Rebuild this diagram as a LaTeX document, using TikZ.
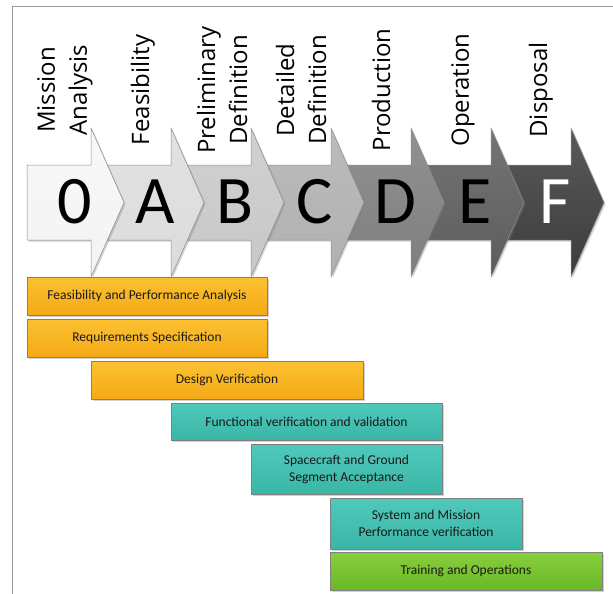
\documentclass[tikz,border=0pt]{standalone}
\usepackage{fontspec}
\setmainfont{Carlito}
\newfontfamily\namefont{Open Sans}
\usetikzlibrary{shadows}

\definecolor{grey0}{HTML}{F3F3F3}
\definecolor{greyA}{HTML}{DCDCDC}
\definecolor{greyB}{HTML}{C8C8C8}
\definecolor{greyC}{HTML}{B0B0B0}
\definecolor{greyD}{HTML}{7E7E7E}
\definecolor{greyE}{HTML}{5C5C5C}
\definecolor{greyF}{HTML}{3C3C3C}
\definecolor{ambertop}{HTML}{FBC132}
\definecolor{amberbot}{HTML}{F5AA16}
\definecolor{tealtop}{HTML}{4FC9BB}
\definecolor{tealbot}{HTML}{3AB6A6}
\definecolor{greentop}{HTML}{88CE3C}
\definecolor{greenbot}{HTML}{6AB828}

\begin{document}
\begin{tikzpicture}[x=1pt,y=-1pt,
  chev/.style={draw=black!45,line width=0.5pt,
    drop shadow={shadow xshift=1.5pt,shadow yshift=-1.5pt,opacity=0.35}},
  chevletter/.style={inner sep=0pt,font=\fontsize{68}{68}\selectfont},
  chevname/.style={rotate=90,align=center,inner sep=0pt,
    font=\namefont\fontsize{24}{32}\selectfont},
  taskbox/.style={draw=black!50,line width=0.5pt,inner sep=0pt,align=center,
    text=black!90,font=\fontsize{13.5}{17}\selectfont,
    drop shadow={shadow xshift=2pt,shadow yshift=-2pt,opacity=0.35}},
  amberbox/.style={taskbox,top color=ambertop,bottom color=amberbot},
  tealbox/.style={taskbox,top color=tealtop,bottom color=tealbot},
  greenbox/.style={taskbox,top color=greentop,bottom color=greenbot}]
\useasboundingbox (0,0) rectangle (613,594);
\draw[black!40,line width=0.8pt] (12,594) -- (12,6) -- (613,6);

% phase arrows, last one first
\path[chev,top color=greyF!85,bottom color=greyF] (491,165) -- (571,165) -- (571,128) -- (604,202.5) -- (571,277) -- (571,240) -- (491,240) -- cycle;
\path[chev,top color=greyE!85,bottom color=greyE] (411,165) -- (491,165) -- (491,128) -- (524,202.5) -- (491,277) -- (491,240) -- (411,240) -- cycle;
\path[chev,top color=greyD!85,bottom color=greyD] (331,165) -- (411,165) -- (411,128) -- (444,202.5) -- (411,277) -- (411,240) -- (331,240) -- cycle;
\path[chev,top color=greyC!85,bottom color=greyC] (251,165) -- (331,165) -- (331,128) -- (364,202.5) -- (331,277) -- (331,240) -- (251,240) -- cycle;
\path[chev,top color=greyB!85,bottom color=greyB] (171,165) -- (251,165) -- (251,128) -- (284,202.5) -- (251,277) -- (251,240) -- (171,240) -- cycle;
\path[chev,top color=greyA!85,bottom color=greyA] (91,165) -- (171,165) -- (171,128) -- (204,202.5) -- (171,277) -- (171,240) -- (91,240) -- cycle;
\path[chev,top color=grey0!60,bottom color=grey0] (27,165) -- (91,165) -- (91,128) -- (124,202.5) -- (91,277) -- (91,240) -- (27,240) -- cycle;

\node[chevletter] (l0) at (75,202) {0};
\node[chevletter] (lA) at (155,202) {A};
\node[chevletter] (lB) at (235,202) {B};
\node[chevletter] (lC) at (315,202) {C};
\node[chevletter] (lD) at (395,202) {D};
\node[chevletter] (lE) at (475,202) {E};
\node[chevletter,text=white] (lF) at (555,202) {F};

\node[chevname] (n0) at (65,90) {Mission\\Analysis};
\node[chevname] (nA) at (143,90) {Feasibility};
\node[chevname] (nB) at (222,90) {Preliminary\\Definition};
\node[chevname] (nC) at (301,90) {Detailed\\Definition};
\node[chevname] (nD) at (381,90) {Production};
\node[chevname] (nE) at (463,90) {Operation};
\node[chevname] (nF) at (541,90) {Disposal};

% activities
\node[amberbox,minimum width=240,minimum height=38] (feas) at (147,296) {Feasibility and Performance Analysis};
\node[amberbox,minimum width=240,minimum height=38] (reqs) at (147,338) {Requirements Specification};
\node[amberbox,minimum width=272,minimum height=38] (desv) at (227,380) {Design Verification};
\node[tealbox,minimum width=271,minimum height=37] (funv) at (306.5,421.5) {Functional verification and validation};
\node[tealbox,minimum width=191,minimum height=50] (accp) at (346.5,469) {Spacecraft and Ground\\Segment Acceptance};
\node[tealbox,minimum width=192,minimum height=51] (sysv) at (426,523.5) {System and Mission\\Performance verification};
\node[greenbox,minimum width=272,minimum height=38] (trop) at (466,571) {Training and Operations};
\end{tikzpicture}
\end{document}
